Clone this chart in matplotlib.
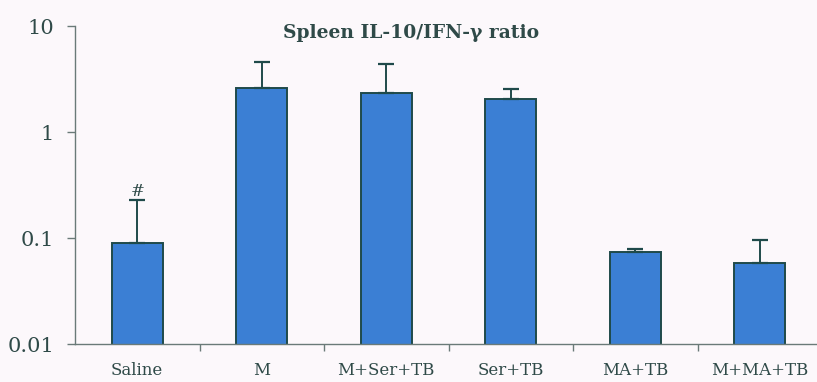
import matplotlib.pyplot as plt
import numpy as np

groups = ["Saline", "M", "M+Ser+TB", "Ser+TB", "MA+TB", "M+MA+TB"]
ratio = [0.09, 2.6, 2.33, 2.04, 0.074, 0.058]
ratio_sd = [0.138, 1.97, 2.04, 0.51, 0.005, 0.038]

ink = "#2f4a48"
bar_color = "#3b7fd4"

plt.rcParams["font.family"] = ["DejaVu Serif"]

fig = plt.figure(figsize=(8.17, 3.82), dpi=100, facecolor="#fcf8fb")
ax = fig.add_axes([75 / 817, 38 / 382, 747 / 817, 318 / 382])
ax.set_facecolor("none")

x = np.arange(len(groups))
ax.bar(x, ratio, width=0.41, color=bar_color, edgecolor="#1f4a4a", linewidth=1.4,
       zorder=2)
ax.errorbar(x, ratio, yerr=[np.zeros(len(ratio)), ratio_sd], fmt="none",
            ecolor="#1f4a4a", elinewidth=1.4, capsize=6, capthick=1.6, zorder=3)

ax.set_yscale("log")
ax.set_ylim(0.01, 10)
ax.set_xlim(-0.5, 5.5)
ax.set_yticks([0.01, 0.1, 1, 10])
ax.set_yticklabels(["0.01", "0.1", "1", "10"], fontsize=15, color=ink)
ax.yaxis.set_minor_locator(plt.NullLocator())
ax.tick_params(axis="y", length=6, width=1, color="#6a7a78", pad=9)

ax.set_xticks(x)
ax.set_xticklabels(groups, fontsize=12, color=ink)
ax.set_xticks(x[:-1] + 0.5, minor=True)
ax.tick_params(axis="x", which="major", length=0, pad=13)
ax.tick_params(axis="x", which="minor", length=5, width=1, color="#6a7a78")

for side in ("top", "right"):
    ax.spines[side].set_visible(False)
for side in ("left", "bottom"):
    ax.spines[side].set_color("#6a7a78")
    ax.spines[side].set_linewidth(1)

ax.text(0, ratio[0] + ratio_sd[0], "#", ha="center", va="bottom", fontsize=12,
        color=ink)
fig.text(411 / 817, 1 - 33 / 382, "Spleen IL-10/IFN-\u03b3 ratio", ha="center",
         va="center", fontsize=13.5, fontweight="bold", color=ink)

fig.savefig("out.png", dpi=100, facecolor=fig.get_facecolor())
